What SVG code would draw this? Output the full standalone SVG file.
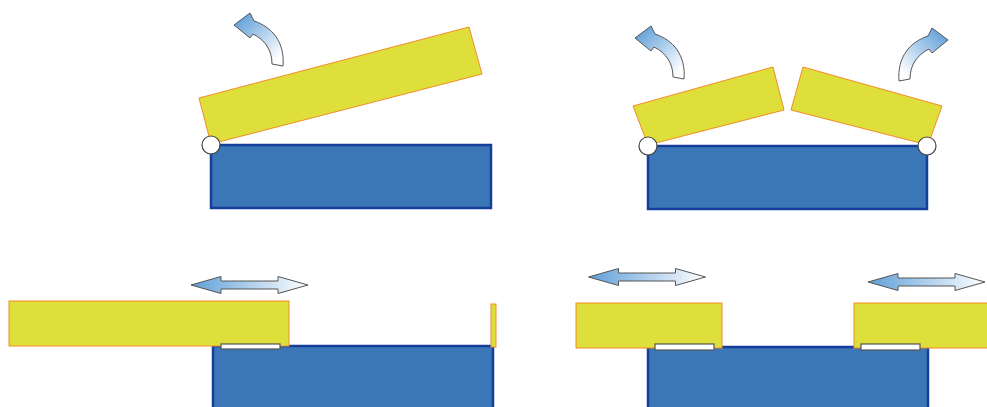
<svg xmlns="http://www.w3.org/2000/svg" xmlns:xlink="http://www.w3.org/1999/xlink" width="987" height="407" viewBox="0 0 987 407">
<style>
.base{fill:#3b76b7;stroke:#163f9c;stroke-width:2.5}
.lid{fill:#dfdf3b;stroke:#f28c28;stroke-width:1}
.hinge{fill:#fff;stroke:#444;stroke-width:1.2}
.slide{fill:#fff;stroke:#555;stroke-width:1.2}
.arr{stroke:#555;stroke-width:1;stroke-linejoin:miter}
</style>
<defs>
<linearGradient id="gc" x1="0" y1="0.15" x2="0.75" y2="1">
<stop offset="0" stop-color="#5f9fd8"/>
<stop offset="1" stop-color="#ffffff"/>
</linearGradient>
<linearGradient id="gd" x1="0" y1="0" x2="1" y2="0">
<stop offset="0" stop-color="#5f9fd8"/>
<stop offset="1" stop-color="#ffffff"/>
</linearGradient>
<path id="curve" d="M 272,64 C 272,50 265,40 253,34 L 250,38 L 234,25 L 250,13 L 254,21 C 272,27 285,42 283,66 Z" fill="url(#gc)" class="arr"/>
<path id="dbl" d="M -58.5,0 L -28.5,-8.5 L -28.5,-4 L 28.5,-4 L 28.5,-8.5 L 58.5,0 L 28.5,8.5 L 28.5,4 L -28.5,4 L -28.5,8.5 Z" fill="url(#gd)" class="arr"/>
</defs>

<g id="panel1">
<rect class="base" x="211" y="145" width="280" height="63"/>
<polygon class="lid" points="211,144 199,98 469,27 482,74"/>
<circle class="hinge" cx="211" cy="145" r="9"/>
<use xlink:href="#curve"/>
</g>

<g id="panel2">
<rect class="base" x="648" y="146" width="279" height="63"/>
<polygon class="lid" points="648,145 633,106 773,67 784,110"/>
<polygon class="lid" points="791,110 803,67 942,106 928,145"/>
<circle class="hinge" cx="648" cy="146" r="9"/>
<circle class="hinge" cx="927" cy="146" r="9"/>
<use xlink:href="#curve" transform="translate(401,13)"/>
<use xlink:href="#curve" transform="translate(1182,15) scale(-1,1)"/>
</g>

<g id="panel3">
<rect class="base" x="213" y="346" width="280" height="64"/>
<rect class="lid" x="9" y="301" width="280" height="45"/>
<rect class="lid" x="491" y="304" width="5" height="43"/>
<rect class="slide" x="221" y="344" width="59" height="5"/>
<use xlink:href="#dbl" transform="translate(249.5,285)"/>
</g>

<g id="panel4">
<rect class="base" x="648" y="347" width="280" height="64"/>
<rect class="lid" x="576" y="303" width="146" height="45"/>
<rect class="lid" x="854" y="303" width="140" height="45"/>
<rect class="slide" x="655" y="344" width="59" height="6"/>
<rect class="slide" x="861" y="344" width="59" height="6"/>
<use xlink:href="#dbl" transform="translate(647,277)"/>
<use xlink:href="#dbl" transform="translate(926.5,282)"/>
</g>
</svg>
